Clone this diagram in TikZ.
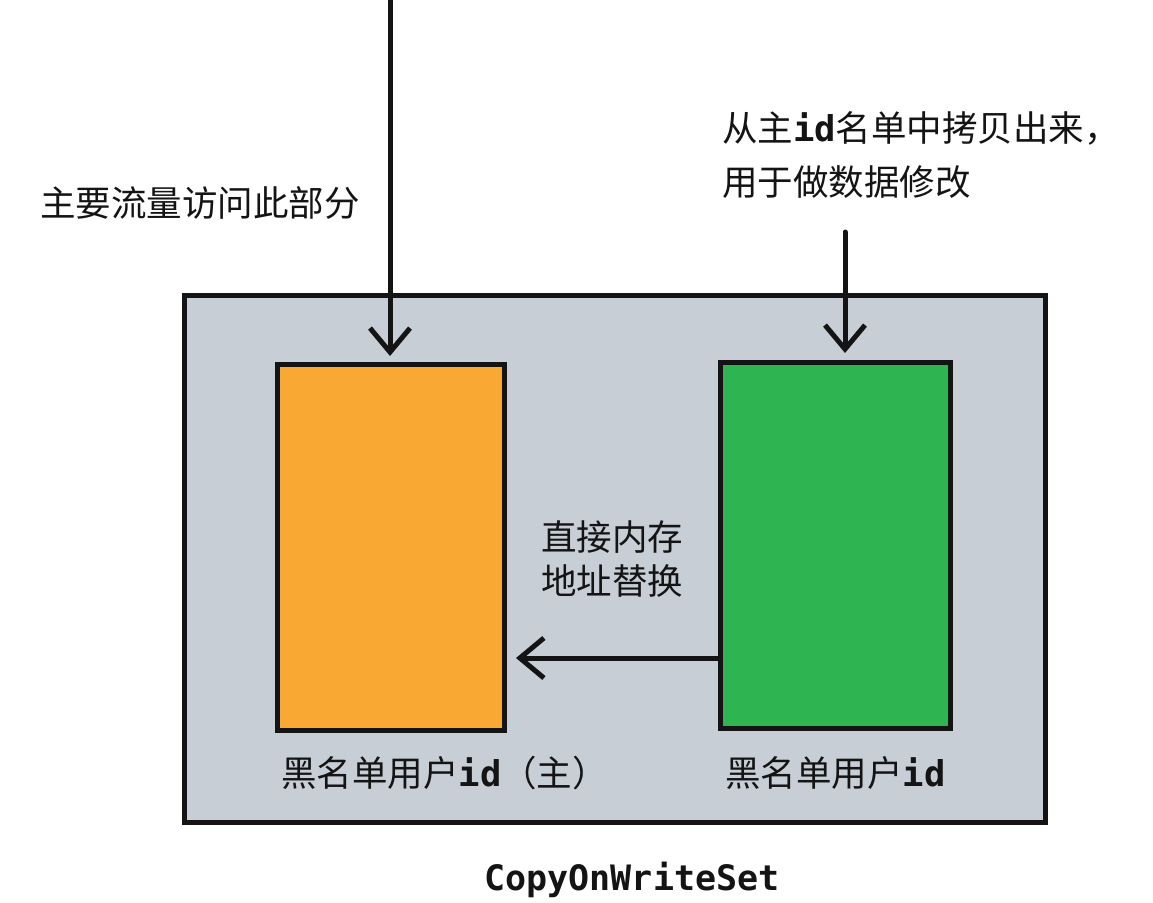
\documentclass[tikz,border=0pt]{standalone}
\usepackage{fontspec}
\setmainfont{Noto Sans CJK SC}
\newfontfamily\monof{DejaVu Sans Mono}
\usetikzlibrary{arrows.meta}
\definecolor{boxgray}{HTML}{C7CED6}
\definecolor{boxorange}{HTML}{F9A833}
\definecolor{boxgreen}{HTML}{2EB552}
\definecolor{ink}{HTML}{141414}
\tikzset{
  frame/.style={draw=ink, line width=5pt, inner sep=0pt, anchor=north west},
  arr/.style={draw=ink, line width=5pt, line cap=round, -{Straight Barb[length=24pt,width=40pt,line width=5pt]}},
  lbl/.style={text=ink, inner sep=0pt, font=\fontsize{35.5}{44}\selectfont},
}
\newcommand{\monoid}[1]{{\monof\bfseries #1}}
\begin{document}
\begin{tikzpicture}[x=1pt,y=-1pt]
\useasboundingbox[fill=white] (0,0) rectangle (1153,902);
\node[frame, fill=boxgray, minimum width=861pt, minimum height=527pt] (outer) at (182,293) {};
\node[frame, fill=boxorange, minimum width=227pt, minimum height=366pt] (orange) at (275,362) {};
\node[frame, fill=boxgreen, minimum width=230pt, minimum height=366pt] (green) at (718,360) {};
% arrows
\coordinate (a1) at (390,-10);
\draw[arr, shorten >=6pt] (a1) -- (a1 |- orange.north);
\coordinate (a2) at (845,232);
\draw[arr, shorten >=7pt] (a2) -- (a2 |- green.north);
\coordinate (h) at (0,658);
\draw[arr, shorten >=9pt, shorten <=-2pt] (green.west |- h) -- (orange.east |- h);
% texts
\node[lbl, anchor=west] (t1) at (40,203) {主要流量访问此部分};
\node[lbl, anchor=west, align=left, font=\fontsize{35.5}{54}\selectfont] (t2) at (722,155) {从主\monoid{id}名单中拷贝出来，\\用于做数据修改};
\node[lbl, anchor=west, align=left] (t3) at (541,559) {直接内存\\地址替换};
\node[lbl, anchor=west] (l1) at (281,773) {黑名单用户\monoid{id}（主）};
\node[lbl, anchor=west] (l2) at (725,773) {黑名单用户\monoid{id}};
\node[lbl, anchor=center, font=\fontsize{35}{40}\monof\bfseries] (title) at (632,880) {CopyOnWriteSet};
\end{tikzpicture}
\end{document}
